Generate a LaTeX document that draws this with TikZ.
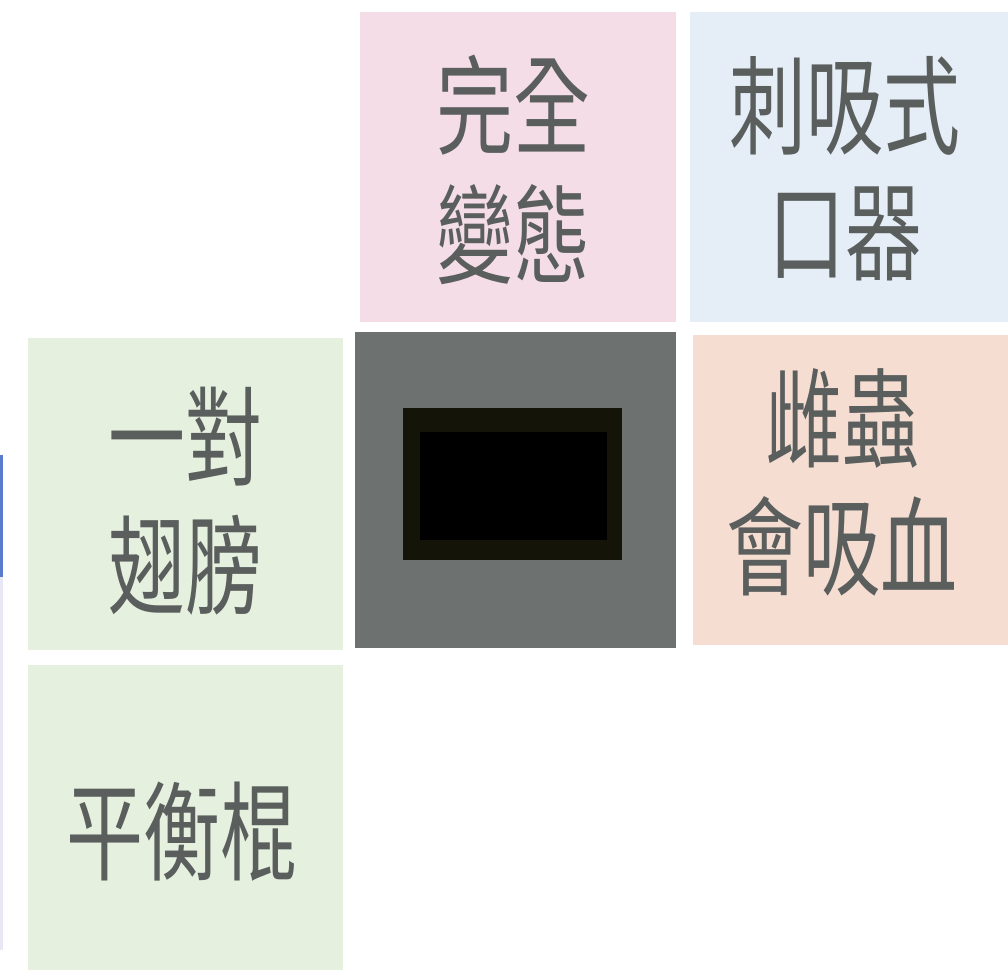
\documentclass[tikz,border=0pt]{standalone}
\usepackage{fontspec}
\newfontfamily\cjk{Noto Sans CJK TC}
\definecolor{pinkbg}{HTML}{F5DDE8}
\definecolor{bluebg}{HTML}{E5EEF6}
\definecolor{greenbg}{HTML}{E6F0DF}
\definecolor{salmonbg}{HTML}{F5DDD2}
\definecolor{greybox}{HTML}{6D716F}
\definecolor{innerdark}{HTML}{141409}
\definecolor{txtgrey}{HTML}{5A5E5D}
\definecolor{barblue}{HTML}{5B7BCF}
\definecolor{barlav}{HTML}{E8E8F5}
\newcommand{\tallcell}[1]{\scalebox{1}[1.4]{\begin{tabular}{@{}c@{}}#1\end{tabular}}}
\begin{document}
\begin{tikzpicture}[x=1pt,y=-1pt,
  cell/.style={inner sep=0pt, text=txtgrey,
    font=\cjk\fontsize{77}{90}\selectfont}]
\useasboundingbox (0,0) rectangle (1008,977);
\fill[white] (0,0) rectangle (1008,977);
% coloured cells
\fill[pinkbg] (360,12) rectangle (676,322);
\fill[bluebg] (690,12) rectangle (1008,322);
\fill[greenbg] (28,338) rectangle (343,650);
\fill[salmonbg] (693,335) rectangle (1008,645);
\fill[greenbg] (28,665) rectangle (343,970);
% centre image
\fill[greybox] (355,332) rectangle (676,648);
\fill[innerdark] (403,408) rectangle (622,560);
\fill[black] (420,432) rectangle (607,540);
% left edge bar
\fill[barblue] (0,455) rectangle (3,577);
\fill[barlav] (0,577) rectangle (3,950);
% texts
\node[cell] (t1) at (513,184) {\tallcell{完全\\變態}};
\node[cell] (t2) at (845,183) {\tallcell{刺吸式\\口器}};
\node[cell] (t3) at (185,516) {\tallcell{一對\\翅膀}};
\node[cell] (t4) at (842,497) {\tallcell{雌蟲\\會吸血}};
\node[cell] (t5) at (182,846) {\tallcell{平衡棍}};
\end{tikzpicture}
\end{document}
